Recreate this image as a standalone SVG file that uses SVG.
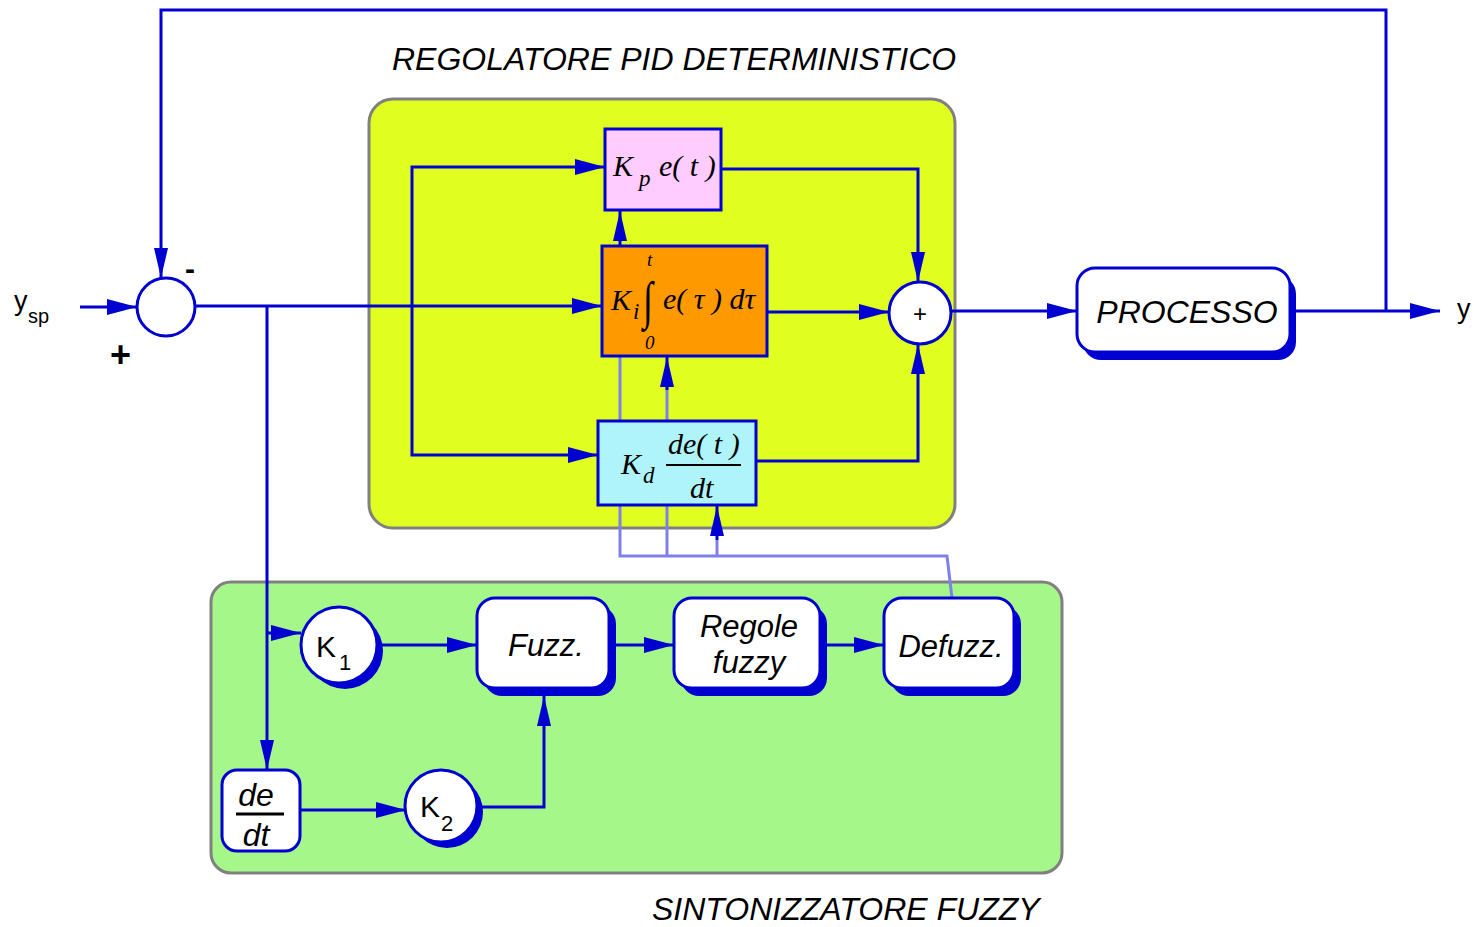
<svg xmlns="http://www.w3.org/2000/svg" width="1474" height="927" viewBox="0 0 1474 927">
  <defs>
    <marker id="arr" viewBox="0 0 30 16" refX="30" refY="8" markerWidth="30" markerHeight="16" markerUnits="userSpaceOnUse" orient="auto">
      <path d="M0,0 L30,8 L0,16 z" fill="#0000D0"/>
    </marker>
    <marker id="arrS" viewBox="0 0 30 14" refX="30" refY="7" markerWidth="30" markerHeight="14" markerUnits="userSpaceOnUse" orient="auto">
      <path d="M0,0 L30,7 L0,14 z" fill="#0000D0"/>
    </marker>
  </defs>
  <style>
    .panel { stroke: #808080; stroke-width: 3; }
    .wire { fill: none; stroke: #0000D0; stroke-width: 3; }
    .tune { fill: none; stroke: #8080EC; stroke-width: 3; }
    .blk { stroke: #0000D0; stroke-width: 3; }
    .rnd { fill: #FFFFFF; stroke: #0000D0; stroke-width: 3; }
    .shd { fill: #0000D0; }
    .sans { font-family: "Liberation Sans", Arial, sans-serif; fill: #000; }
    .it { font-style: italic; }
    .math { font-family: "Liberation Serif", "Times New Roman", serif; font-style: italic; fill: #000; }
  </style>

  <rect width="1474" height="927" fill="#FFFFFF"/>

  <!-- Panels -->
  <g id="pid-panel">
    <rect class="panel" x="369" y="99" width="586" height="429" rx="24" fill="#E0FF20"/>
    <text class="sans it" x="392" y="70" font-size="32">REGOLATORE PID DETERMINISTICO</text>
  </g>
  <g id="fuzzy-panel">
    <rect class="panel" x="211" y="582" width="851" height="291" rx="20" fill="#A6F78A"/>
    <text class="sans it" x="652" y="920" font-size="32">SINTONIZZATORE FUZZY</text>
  </g>

  <!-- Connectors -->
  <g id="connectors">
    <!-- gain tuning lines from the defuzzifier -->
    <polyline class="tune" points="952,598 947,556 620,556 620,420"/>
    <line class="tune" x1="620" y1="506" x2="620" y2="246"/>
    <path class="wire" d="M620,246 L620,211" marker-end="url(#arrS)"/>
    <path class="tune" d="M667,556 L667,380"/>
    <path class="wire" d="M667,390 L667,357" marker-end="url(#arrS)" stroke="#8080EC"/>
    <path class="tune" d="M717,556 L717,540"/>
    <path class="wire" d="M717,540 L717,506" marker-end="url(#arrS)" stroke="#8080EC"/>

    <!-- main loop -->
    <path class="wire" d="M80,307 L137,307" marker-end="url(#arr)"/>
    <path class="wire" d="M1386,311 L1386,10 L161,10 L161,278" marker-end="url(#arrS)"/>
    <path class="wire" d="M195,306 L602,306" marker-end="url(#arr)"/>
    <path class="wire" d="M412,306 L412,167 L605,167" marker-end="url(#arr)"/>
    <path class="wire" d="M412,306 L412,455 L598,455" marker-end="url(#arr)"/>
    <path class="wire" d="M721,169 L918,169 L918,282" marker-end="url(#arrS)"/>
    <path class="wire" d="M767,312 L889,312" marker-end="url(#arr)"/>
    <path class="wire" d="M756,461 L918,461 L918,344" marker-end="url(#arrS)"/>
    <path class="wire" d="M951,311 L1077,311" marker-end="url(#arr)"/>
    <path class="wire" d="M1290,311 L1440,311" marker-end="url(#arr)"/>

    <!-- fuzzy tuner -->
    <path class="wire" d="M267,306 L267,770" marker-end="url(#arrS)"/>
    <path class="wire" d="M267,633 L301,633" marker-end="url(#arr)"/>
    <path class="wire" d="M378,645 L477,645" marker-end="url(#arr)"/>
    <path class="wire" d="M609,645 L674,645" marker-end="url(#arr)"/>
    <path class="wire" d="M820,645 L884,645" marker-end="url(#arr)"/>
    <path class="wire" d="M300,810 L406,810" marker-end="url(#arr)"/>
    <path class="wire" d="M478,807 L544,807 L544,696" marker-end="url(#arrS)"/>
  </g>

  <!-- Summing junctions -->
  <g id="sum-error">
    <circle cx="166" cy="307" r="29" fill="#FFFFFF" stroke="#0000D0" stroke-width="3"/>
    <text class="sans" x="185" y="279" font-size="30" font-weight="bold">-</text>
    <text class="sans" x="110" y="367" font-size="36" font-weight="bold">+</text>
  </g>
  <g id="sum-pid">
    <circle cx="920" cy="313" r="31" fill="#FFFFFF" stroke="#0000D0" stroke-width="3"/>
    <text class="sans" x="920" y="322" font-size="24" text-anchor="middle">+</text>
  </g>

  <!-- PID terms -->
  <g id="kp">
    <rect class="blk" x="605" y="129" width="116" height="81" fill="#FFCCFF"/>
    <text class="math" x="613" y="176" font-size="30">K</text>
    <text class="math" x="639" y="186" font-size="23">p</text>
    <text class="math" x="659" y="176" font-size="30">e( t )</text>
  </g>
  <g id="ki">
    <rect class="blk" x="602" y="246" width="165" height="110" fill="#FF9900"/>
    <text class="math" x="611" y="310" font-size="30">K</text>
    <text class="math" x="633" y="319" font-size="23">i</text>
    <text class="math" font-size="36" font-style="normal" transform="translate(643,318) scale(1,1.45)">∫</text>
    <text class="math" x="647" y="266" font-size="19">t</text>
    <text class="math" x="645" y="349" font-size="19">0</text>
    <text class="math" x="663" y="309" font-size="30">e( τ ) dτ</text>
  </g>
  <g id="kd">
    <rect class="blk" x="598" y="421" width="158" height="84" fill="#AEF4FA"/>
    <text class="math" x="621" y="474" font-size="30">K</text>
    <text class="math" x="643" y="483" font-size="23">d</text>
    <text class="math" x="668" y="454" font-size="30">de( t )</text>
    <line x1="666" y1="465" x2="741" y2="465" stroke="#000" stroke-width="2"/>
    <text class="math" x="690" y="498" font-size="30">dt</text>
  </g>

  <!-- Plant -->
  <g id="processo">
    <rect class="shd" x="1083" y="276" width="213" height="84" rx="18"/>
    <rect class="rnd" x="1077" y="268" width="213" height="84" rx="18"/>
    <text class="sans it" x="1187" y="323" font-size="32" text-anchor="middle">PROCESSO</text>
  </g>

  <!-- Signal labels -->
  <g id="labels">
    <text class="sans" x="14" y="310" font-size="27">y</text>
    <text class="sans" x="28" y="323" font-size="20">sp</text>
    <text class="sans" x="1457" y="318" font-size="27">y</text>
  </g>

  <!-- Fuzzy tuner blocks -->
  <g id="k1">
    <circle class="shd" cx="345" cy="651" r="38"/>
    <circle class="rnd" cx="339" cy="645" r="38"/>
    <text class="sans" x="316" y="657" font-size="30">K</text>
    <text class="sans" x="339" y="670" font-size="22">1</text>
  </g>
  <g id="fuzz">
    <rect class="shd" x="484" y="606" width="132" height="90" rx="18"/>
    <rect class="rnd" x="477" y="598" width="132" height="90" rx="18"/>
    <text class="sans it" x="546" y="656" font-size="31" text-anchor="middle">Fuzz.</text>
  </g>
  <g id="regole">
    <rect class="shd" x="681" y="606" width="146" height="90" rx="18"/>
    <rect class="rnd" x="674" y="598" width="146" height="90" rx="18"/>
    <text class="sans it" x="749" y="637" font-size="31" text-anchor="middle">Regole</text>
    <text class="sans it" x="749" y="673" font-size="31" text-anchor="middle">fuzzy</text>
  </g>
  <g id="defuzz">
    <rect class="shd" x="891" y="606" width="130" height="90" rx="18"/>
    <rect class="rnd" x="884" y="598" width="130" height="90" rx="18"/>
    <text class="sans it" x="951" y="657" font-size="31" text-anchor="middle">Defuzz.</text>
  </g>
  <g id="derivative">
    <rect class="rnd" x="222" y="770" width="78" height="81" rx="15"/>
    <text class="sans it" x="256" y="806" font-size="32" text-anchor="middle">de</text>
    <line x1="236" y1="814" x2="284" y2="814" stroke="#000" stroke-width="3"/>
    <text class="sans it" x="256" y="846" font-size="32" text-anchor="middle">dt</text>
  </g>
  <g id="k2">
    <circle class="shd" cx="447" cy="812" r="36"/>
    <circle class="rnd" cx="441" cy="806" r="36"/>
    <text class="sans" x="420" y="817" font-size="30">K</text>
    <text class="sans" x="441" y="831" font-size="22">2</text>
  </g>
</svg>
